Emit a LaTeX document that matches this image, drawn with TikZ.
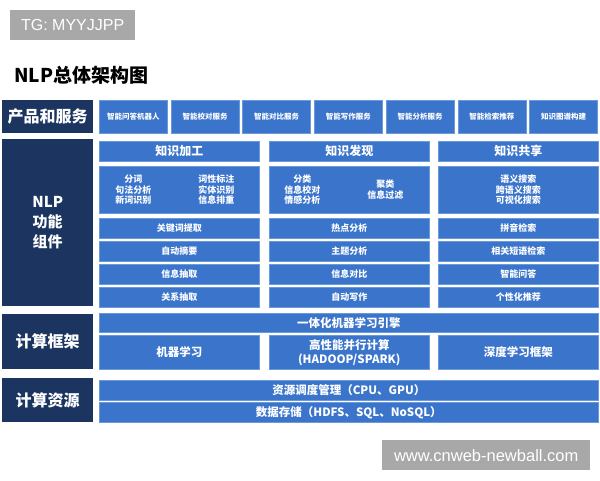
\documentclass[tikz,border=0pt]{standalone}
\usepackage{fontspec}
\setmainfont{Noto Sans CJK SC}
\newfontfamily\wmfont{Liberation Sans}
\usetikzlibrary{positioning}
\definecolor{navy}{HTML}{1B3560}
\definecolor{bluebox}{HTML}{3A74CB}
\definecolor{blueline}{HTML}{6A9ADB}
\definecolor{wmgray}{HTML}{A8A8A8}
\tikzstyle{bb} = [rectangle, fill=bluebox, draw=blueline, line width=0.6pt, text=white, inner sep=0pt, anchor=north west, align=center]
\tikzstyle{lb} = [rectangle, fill=navy, text=white, inner sep=0pt, anchor=north west, align=center, minimum width=91pt, font=\bfseries\fontsize{16}{20}\selectfont]
\tikzstyle{wm} = [rectangle, fill=wmgray, text=white, inner sep=0pt, anchor=north west, font=\wmfont]

\begin{document}
\begin{tikzpicture}[x=1pt,y=-1pt]
\tikzstyle{tx} = [text=white, align=center, inner sep=0pt, font=\bfseries\fontsize{9}{10.5}\selectfont]
\useasboundingbox[fill=white] (0,0) rectangle (600,480);
\node[wm, minimum width=125pt, minimum height=30pt, font=\wmfont\fontsize{16}{18}\selectfont] (tg) at (10,10) {TG: MYYJJPP};
\node[anchor=west, inner sep=0pt, font=\bfseries\fontsize{19}{22}\selectfont] (title) at (14,75) {NLP总体架构图};

\node[lb, minimum height=33pt] (prod) at (2,100) {产品和服务};
\foreach \t [count=\i from 0] in {智能问答机器人,智能校对服务,智能对比服务,智能写作服务,智能分析服务,智能检索推荐,知识图谱构建}
  \node[bb, minimum width=68pt, minimum height=33pt, font=\bfseries\fontsize{7.5}{9}\selectfont] (p\i) at ({99+\i*71.7},100) {\t};

\node[lb, minimum height=167pt, font=\bfseries\fontsize{15}{20}\selectfont] (nlp) at (2,139) {NLP\\功能\\组件};
\node[bb, minimum width=160pt, minimum height=20pt, font=\bfseries\fontsize{12}{14}\selectfont] (h1) at (99,141) {知识加工};
\node[bb, minimum width=160pt, minimum height=20pt, font=\bfseries\fontsize{12}{14}\selectfont] (h2) at (269,141) {知识发现};
\node[bb, minimum width=160pt, minimum height=20pt, font=\bfseries\fontsize{12}{14}\selectfont] (h3) at (438,141) {知识共享};
\node[bb, minimum width=160pt, minimum height=47pt] (k1) at (99,166) {};
\node[bb, minimum width=160pt, minimum height=47pt] (k2) at (269,166) {};
\node[bb, minimum width=160pt, minimum height=47pt] (k3) at (438,166) {};
\node[tx] (k1a) at ([xshift=-46pt]k1.center) {分词\\句法分析\\新词识别};
\node[tx] (k1b) at ([xshift=37pt]k1.center) {词性标注\\实体识别\\信息排重};
\node[tx] (k2a) at ([xshift=-47pt]k2.center) {分类\\信息校对\\情感分析};
\node[tx] (k2b) at ([xshift=36pt]k2.center) {聚类\\信息过滤};
\node[tx] (k3a) at (k3.center) {语义搜索\\跨语义搜索\\可视化搜索};
\foreach \a/\b/\c [count=\j from 0] in {关键词提取/热点分析/拼音检索,自动摘要/主题分析/相关短语检索,信息抽取/信息对比/智能问答,关系抽取/自动写作/个性化推荐}
{
  \node[bb, minimum width=160pt, minimum height=20pt, font=\bfseries\fontsize{9}{10}\selectfont] (ra\j) at (99,{218+\j*23}) {\a};
  \node[bb, minimum width=160pt, minimum height=20pt, font=\bfseries\fontsize{9}{10}\selectfont] (rb\j) at (269,{218+\j*23}) {\b};
  \node[bb, minimum width=160pt, minimum height=20pt, font=\bfseries\fontsize{9}{10}\selectfont] (rc\j) at (438,{218+\j*23}) {\c};
}

\node[lb, minimum height=55pt] (frame) at (2,314) {计算框架};
\node[bb, minimum width=499pt, minimum height=19pt, font=\bfseries\fontsize{11.5}{13}\selectfont] (engine) at (99,313) {一体化机器学习引擎};
\node[bb, minimum width=160pt, minimum height=34pt, font=\bfseries\fontsize{11.5}{14}\selectfont] (ml) at (99,335) {机器学习};
\node[bb, minimum width=160pt, minimum height=34pt, font=\bfseries\fontsize{11.5}{14}\selectfont] (hpc) at (269,335) {高性能并行计算\\(HADOOP/SPARK)};
\node[bb, minimum width=160pt, minimum height=34pt, font=\bfseries\fontsize{11.5}{14}\selectfont] (dl) at (438,335) {深度学习框架};

\node[lb, minimum height=44pt] (res) at (2,378) {计算资源};
\node[bb, minimum width=499pt, minimum height=20pt, font=\bfseries\fontsize{11.5}{13}\selectfont] (sched) at (99,380) {资源调度管理（CPU、GPU）};
\node[bb, minimum width=499pt, minimum height=20pt, font=\bfseries\fontsize{11.5}{13}\selectfont] (store) at (99,402) {数据存储（HDFS、SQL、NoSQL）};

\node[wm, minimum width=208pt, minimum height=30pt, font=\wmfont\fontsize{16.5}{18}\selectfont] (site) at (382,440) {www.cnweb-newball.com};
\end{tikzpicture}
\end{document}
